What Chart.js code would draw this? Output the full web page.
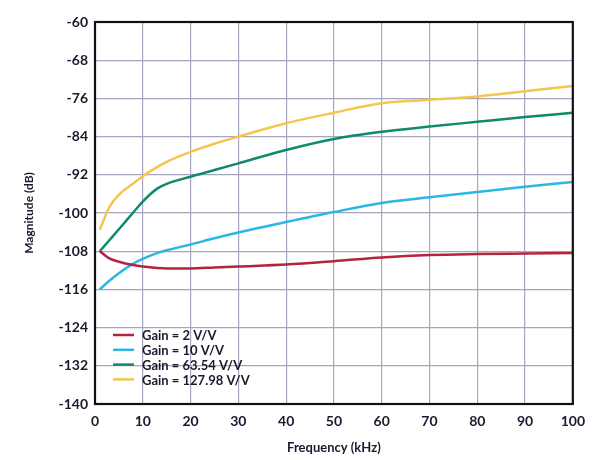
<!DOCTYPE html>
<html>
<head>
<meta charset="utf-8">
<script src="https://cdn.jsdelivr.net/npm/chart.js@4"></script>
<style>
  html, body { margin: 0; padding: 0; background: #fff; }
  #wrap { width: 594px; height: 460px; }
</style>
</head>
<body>
<div id="wrap"><canvas id="gainChart" width="594" height="460"></canvas></div>
<script>
const freqKHz = [1, 3, 5, 8, 10, 13, 15, 20, 25, 30, 40, 50, 60, 70, 80, 90, 100];
const gain2 = [-108, -109.5, -110.2, -110.9, -111.2, -111.5, -111.6, -111.6, -111.4, -111.2, -110.8, -110.1, -109.3, -108.8, -108.6, -108.5, -108.4];
const gain10 = [-116, -114.2, -112.6, -110.6, -109.6, -108.4, -107.8, -106.6, -105.3, -104.1, -101.9, -99.8, -97.9, -96.7, -95.6, -94.5, -93.5];
const gain63 = [-108, -105.7, -103.4, -99.9, -97.6, -94.9, -93.9, -92.4, -91.0, -89.6, -86.8, -84.5, -83, -81.9, -80.9, -79.9, -79];
const gain128 = [-103.5, -98.8, -96.2, -93.8, -92.3, -90.4, -89.3, -87.2, -85.5, -84, -81.2, -79, -77, -76.3, -75.6, -74.5, -73.4];
const seriesLabels = ['Gain = 2 V/V', 'Gain = 10 V/V', 'Gain = 63.54 V/V', 'Gain = 127.98 V/V'];
const seriesColors = ['#b3243f', '#2bb7e6', '#0e8a6c', '#f4c64e'];
const xTicks = [0, 10, 20, 30, 40, 50, 60, 70, 80, 90, 100];
const yTicks = [-140, -132, -124, -116, -108, -100, -92, -84, -76, -68, -60];

const toPoints = (ys) => ys.map((y, i) => ({ x: freqKHz[i], y: y }));
const allSeries = [gain2, gain10, gain63, gain128];

// legend drawn inside the plot, lower left, without a box
const innerLegend = {
  id: 'innerLegend',
  afterDraw(chart) {
    const c = chart.ctx, a = chart.chartArea;
    c.save();
    c.font = 'bold 13px Lato';
    c.textBaseline = 'middle';
    chart.data.datasets.forEach((ds, i) => {
      const y = a.bottom - 69 + i * 14.8;
      c.strokeStyle = ds.borderColor;
      c.lineWidth = 2.5;
      c.beginPath();
      c.moveTo(a.left + 18, y);
      c.lineTo(a.left + 39, y);
      c.stroke();
      c.fillStyle = '#1a1a2e';
      c.fillText(ds.label, a.left + 47, y + 1);
    });
    c.restore();
  }
};

// black frame round the plot area
const frame = {
  id: 'frame',
  afterDraw(chart) {
    const c = chart.ctx, a = chart.chartArea;
    c.save();
    c.strokeStyle = '#111';
    c.lineWidth = 2.2;
    c.strokeRect(a.left, a.top, a.right - a.left, a.bottom - a.top);
    c.restore();
  }
};

const ctx = document.getElementById('gainChart').getContext('2d');
const gainChart = new Chart(ctx, {
  type: 'line',
  data: {
    datasets: allSeries.map((s, i) => ({
      label: seriesLabels[i],
      data: toPoints(s),
      borderColor: seriesColors[i],
      borderWidth: 2.5,
      pointRadius: 0,
      fill: false,
      cubicInterpolationMode: 'monotone'
    }))
  },
  options: {
    responsive: false,
    animation: false,
    layout: { padding: { top: 22, right: 21, left: 0, bottom: 0 } },
    plugins: { legend: { display: false }, tooltip: { enabled: false } },
    scales: {
      x: {
        type: 'linear',
        min: 0,
        max: 100,
        afterBuildTicks: (s) => { s.ticks = xTicks.map(v => ({ value: v })); },
        afterFit: (s) => { s.height = 56; },
        grid: { color: '#a7a4bd', lineWidth: 1.2, drawTicks: false },
        border: { display: false },
        ticks: { color: '#1a1a2e', font: { family: 'Lato', size: 14, weight: 'bold' }, padding: 9, maxRotation: 0 },
        title: { display: true, text: 'Frequency (kHz)', color: '#1a1a2e', font: { family: 'Lato', size: 13, weight: 'bold' }, padding: { top: 2, bottom: 4 } }
      },
      y: {
        min: -140,
        max: -60,
        afterBuildTicks: (s) => { s.ticks = yTicks.map(v => ({ value: v })); },
        afterFit: (s) => { s.width = 95; },
        grid: { color: '#a7a4bd', lineWidth: 1.2, drawTicks: false },
        border: { display: false },
        ticks: { color: '#1a1a2e', font: { family: 'Lato', size: 14, weight: 'bold' }, padding: 7 },
        title: { display: true, text: 'Magnitude (dB)', color: '#1a1a2e', font: { family: 'Lato', size: 12, weight: 'bold' }, padding: { top: 22, bottom: 0 } }
      }
    }
  },
  plugins: [innerLegend, frame]
});
</script>
</body>
</html>
